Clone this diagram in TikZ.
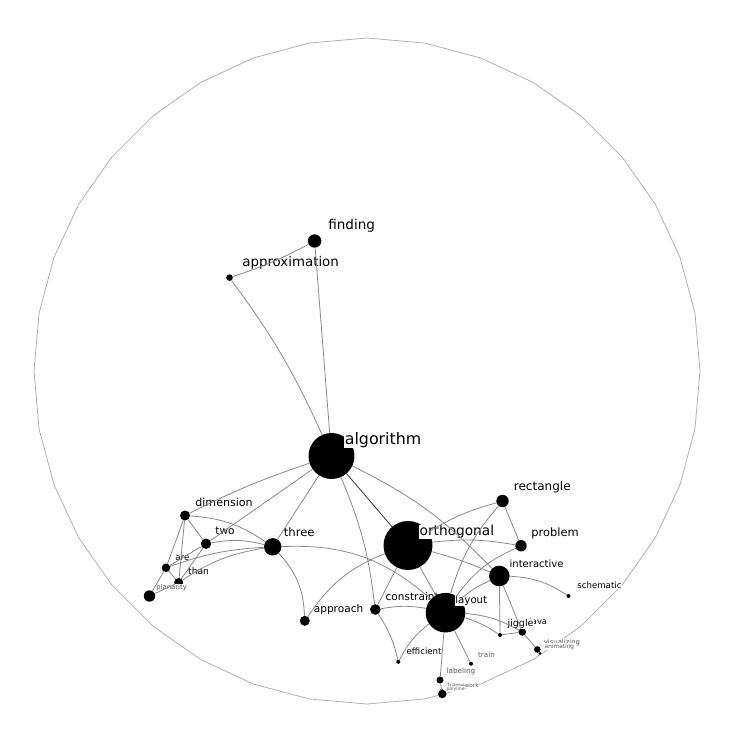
\documentclass[tikz,border=0pt]{standalone}
\usepackage{fontspec}
\setmainfont{DejaVu Sans}
\definecolor{edgegray}{RGB}{135,135,135}
\definecolor{rimgray}{RGB}{175,175,175}
\definecolor{smallgray}{RGB}{90,90,90}
\tikzset{
  dot/.style={circle, fill=black, inner sep=0pt, outer sep=0pt, minimum size=#1*0.04cm},
  word/.style={fill=white, inner sep=0.3pt, anchor=base west,
    font=\fontsize{#1}{#1}\selectfont},
  faint/.style={text=smallgray},
  link/.style={draw=edgegray, line width=0.45pt},
  darklink/.style={draw=black!80, line width=0.45pt},
  rim/.style={draw=rimgray, line width=0.45pt}
}

\begin{document}
\begin{tikzpicture}[x=0.02cm, y=-0.02cm]
  \useasboundingbox (0,0) rectangle (736,739);
  % outer ring
  \draw[rim] plot[domain=0:360, samples=37, variable=\t]
    ({367+333*cos(\t)}, {371+333*sin(\t)}) -- cycle;
  % upper words
  \node[dot=6.7] (find) at (314.6,241) {};
  \node[word=7.7pt] (find-t) at (327.5,230) {finding};
  \node[dot=3.3] (approx) at (229.5,277.6) {};
  \node[word=7.6pt] (approx-t) at (241.5,266.7) {approximation};
  \node[dot=23] (alg) at (331.5,456) {};
  \node[word=9pt] (alg-t) at (344,444) {algorithm};
  % left cluster
  \node[dot=5] (dim) at (185,515.5) {};
  \node[word=6.3pt] (dim-t) at (194.5,506.5) {dimension};
  \node[dot=5.2] (two) at (206,543.7) {};
  \node[word=6pt] (two-t) at (214.5,534.3) {two};
  \node[dot=8.7] (three) at (272.7,546.8) {};
  \node[word=6.6pt] (three-t) at (283,536.7) {three};
  \node[dot=4.3] (are) at (166,567.8) {};
  \node[word=4.9pt] (are-t) at (174.5,560.5) {are};
  \node[dot=4.5] (than) at (178.7,582.5) {};
  \node[word=5.2pt] (than-t) at (187.3,574.8) {than};
  \node[dot=5.7] (planar) at (149.5,596) {};
  \node[word=3.9pt, faint] (planar-t) at (155.5,589.5) {planarity};
  % middle
  \node[dot=5] (appr) at (304.8,620.8) {};
  \node[word=6pt] (appr-t) at (313,612.7) {approach};
  \node[dot=24.5] (orth) at (408,545.5) {};
  \node[word=7.8pt] (orth-t) at (418.8,535.7) {orthogonal};
  % right cluster
  \node[dot=6.2] (rect) at (502.5,501) {};
  \node[word=6.85pt] (rect-t) at (513,490) {rectangle};
  \node[dot=5.7] (prob) at (521,545.7) {};
  \node[word=6.5pt] (prob-t) at (530.5,536.7) {problem};
  \node[dot=10.3] (inter) at (499.3,576) {};
  \node[word=5.7pt] (inter-t) at (508.8,567.6) {interactive};
  \node[dot=2] (schem) at (568.5,596) {};
  \node[word=4.9pt] (schem-t) at (576.5,588.3) {schematic};
  \node[dot=5.3] (constr) at (375.3,609.5) {};
  \node[word=6pt] (constr-t) at (384.8,600.7) {constraint};
  \node[dot=19.8] (layout) at (445.5,612.7) {};
  \node[word=5.8pt] (layout-t) at (454.5,603.3) {layout};
  % bottom words
  \node[dot=2] (eff) at (398.3,661.8) {};
  \node[word=4.9pt] (eff-t) at (405.8,654.2) {efficient};
  \node[dot=2] (train) at (471,663.7) {};
  \node[word=4.1pt, faint] (train-t) at (477.2,657.3) {train};
  \node[dot=3.5] (lab) at (440,680) {};
  \node[word=4.1pt, faint] (lab-t) at (445.8,673.3) {labeling};
  \node[dot=1.5] (frame) at (441.5,690) {};
  \node[word=3.3pt, faint] (frame-t) at (446.5,687.7) {framework};
  \node[dot=4.2] (poly) at (442.3,694) {};
  \node[word=2.6pt, faint] (poly-t) at (445.8,690.3) {polyline};
  \node[dot=3.8] (java) at (522.3,632) {};
  \node[word=4.7pt] (java-t) at (528.8,624.3) {java};
  \node[dot=2] (jig) at (500,635) {};
  \node[word=5.4pt] (jig-t) at (506.8,626.7) {jiggle};
  \node[dot=3.3] (vis) at (537.3,649.5) {};
  \node[word=3.9pt, faint] (vis-t) at (543,644) {visualizing};
  \node[dot=1.5] (anim) at (540,653.3) {};
  \node[word=3.3pt, faint] (anim-t) at (544,648.3) {animating};
  % links
  \draw[link] (alg) -- (find);
  \draw[link] (alg) to[bend right=6] (approx);
  \draw[link] (approx) to[bend right=5] (find);
  \draw[link] (alg) to[bend right=4] (dim);
  \draw[link] (alg) -- (two);
  \draw[link] (alg) -- (three);
  \draw[link] (alg) to[bend left=8] (constr);
  \draw[darklink] (alg) -- (orth);
  \draw[link] (alg) to[bend left=10] (inter);
  \draw[link] (dim) -- (two);
  \draw[link] (dim) to[bend left=15] (three);
  \draw[link] (dim) -- (are);
  \draw[link] (dim) -- (than);
  \draw[link] (two) to[bend left=12] (three);
  \draw[link] (two) -- (are);
  \draw[link] (two) -- (than);
  \draw[link] (are) to[bend left=8] (three);
  \draw[link] (than) to[bend left=12] (three);
  \draw[link] (are) -- (than);
  \draw[link] (are) -- (planar);
  \draw[link] (than) -- (planar);
  \draw[link] (three) to[bend left=20] (appr);
  \draw[link] (three) to[bend left=22] (layout);
  \draw[link] (appr) to[bend left=17] (orth);
  \draw[link] (orth) -- (constr);
  \draw[link] (orth) -- (layout);
  \draw[link] (orth) to[bend left=8] (rect);
  \draw[link] (orth) to[bend left=8] (prob);
  \draw[link] (orth) to[bend left=4] (inter);
  \draw[link] (constr) to[bend left=10] (layout);
  \draw[link] (constr) to[bend left=10] (eff);
  \draw[link] (layout) to[bend right=12] (eff);
  \draw[link] (layout) -- (lab);
  \draw[link] (layout) -- (train);
  \draw[link] (layout) to[bend left=12] (rect);
  \draw[link] (layout) to[bend left=15] (prob);
  \draw[link] (layout) to[bend left=8] (inter);
  \draw[link] (layout) to[bend left=8] (jig);
  \draw[link] (layout) to[bend left=12] (java);
  \draw[link] (rect) -- (prob);
  \draw[link] (inter) to[bend left=15] (schem);
  \draw[link] (inter) -- (jig);
  \draw[link] (inter) -- (java);
  \draw[link] (jig) -- (java);
  \draw[link] (java) -- (vis);
  \draw[link] (vis) -- (anim);
  \draw[link] (lab) -- (poly);
\end{tikzpicture}
\end{document}
